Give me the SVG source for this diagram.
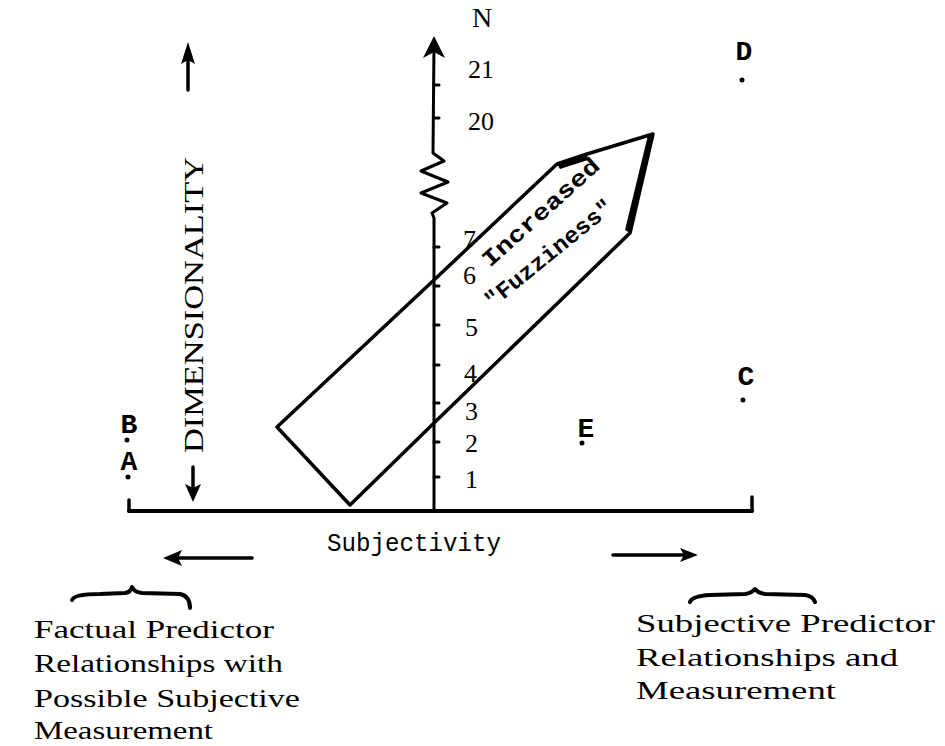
<svg xmlns="http://www.w3.org/2000/svg" width="945" height="746" viewBox="0 0 945 746">
<style>
.ln{fill:none;stroke:#000;stroke-width:3.5;stroke-linecap:round;stroke-linejoin:round}
.th{fill:none;stroke:#000;stroke-width:3;stroke-linecap:round}
.mono{font-family:"Liberation Mono","DejaVu Sans Mono",monospace;fill:#000}
.serif{font-family:"Liberation Serif","DejaVu Serif",serif;fill:#000}
.num{font-family:"Liberation Serif","DejaVu Serif",serif;font-size:26px;fill:#000}
.pt{font-family:"Liberation Mono","DejaVu Sans Mono",monospace;font-size:28px;font-weight:bold;fill:#000;text-anchor:middle}
.lab{font-family:"Liberation Serif","DejaVu Serif",serif;font-size:26px;fill:#000}
.dot{fill:#000}
</style>
<rect width="945" height="746" fill="#fff"/>

<g id="axes">
<path class="ln" d="M129,511 L752,511" style="stroke-width:4"/>
<path class="ln" d="M129,511 L129,500"/>
<path class="ln" d="M752,511 L752,497"/>
<path class="ln" d="M434,511 L434,218 L432,213 L447,203 L421,193 L448,182 L421,171 L444,161 L433,153 L434,44" style="stroke-width:3"/>
<path d="M434,36 L423,58 L434,52 L445,58 Z" fill="#000"/>
<g class="th">
<path d="M434,85 L439,85"/><path d="M434,118 L439,118"/>
<path d="M434,247 L439,247"/><path d="M434,286 L439,286"/>
<path d="M434,325 L439,325"/><path d="M434,365 L439,365"/>
<path d="M434,403 L439,403"/><path d="M434,442 L439,442"/>
<path d="M434,477 L439,477"/>
</g>
</g>

<g id="axis-labels">
<text class="serif" x="472" y="27" font-size="28">N</text>
<text class="num" x="468" y="78">21</text>
<text class="num" x="468" y="130">20</text>
<text class="num" x="463" y="248">7</text>
<text class="num" x="463" y="284">6</text>
<text class="num" x="465" y="336">5</text>
<text class="num" x="464" y="382">4</text>
<text class="num" x="465" y="420">3</text>
<text class="num" x="465" y="452">2</text>
<text class="num" x="465" y="488">1</text>
</g>

<g id="fuzziness-region">
<path class="ln" d="M350,505 L277,427 L434,280 L557,164 L587,154 L653,134 L630,233 L434,423 Z"/>
<path d="M557,164 L587,154 L588,160 L560,169 Z" fill="#000"/>
<path d="M653,134 L630,233 L625,230 L648,135 Z" fill="#000"/>
<text class="mono" font-size="23" font-weight="bold" transform="translate(490,268) rotate(-42)" textLength="150" lengthAdjust="spacingAndGlyphs">Increased</text>
<text class="mono" font-size="23" font-weight="bold" transform="translate(492,309) rotate(-39)" textLength="158" lengthAdjust="spacingAndGlyphs">"Fuzziness"</text>
</g>

<g id="dimensionality">
<path class="ln" d="M188,90 L188,60"/>
<path d="M188,42 L181,64 L188,60 L195,64 Z" fill="#000"/>
<text class="serif" font-size="28" transform="translate(203,453) rotate(-90)" textLength="296" lengthAdjust="spacingAndGlyphs">DIMENSIONALITY</text>
<path class="ln" d="M193,467 L193,488"/>
<path d="M193,502 L185,484 L193,488 L201,484 Z" fill="#000"/>
</g>

<g id="point-A">
<text class="pt" x="129" y="470">A</text>
<circle class="dot" cx="128" cy="477" r="2.5"/>
</g>
<g id="point-B">
<text class="pt" x="129" y="433">B</text>
<circle class="dot" cx="127" cy="440" r="2.5"/>
</g>
<g id="point-C">
<text class="pt" x="746" y="385">C</text>
<circle class="dot" cx="743" cy="400" r="2.5"/>
</g>
<g id="point-D">
<text class="pt" x="744" y="60">D</text>
<circle class="dot" cx="742" cy="80" r="2.5"/>
</g>
<g id="point-E">
<text class="pt" x="586" y="437">E</text>
<circle class="dot" cx="582" cy="443" r="2.5"/>
</g>

<g id="subjectivity">
<text class="mono" font-size="25" x="327" y="551" textLength="174" lengthAdjust="spacingAndGlyphs">Subjectivity</text>
<path class="ln" d="M252,558 L178,558"/>
<path d="M163,558 L182,550 L178,558 L182,566 Z" fill="#000"/>
<path class="ln" d="M613,555 L684,555"/>
<path d="M698,555 L680,548 L684,555 L680,562 Z" fill="#000"/>
</g>

<g id="left-label">
<path class="ln" d="M72,600 Q74,594 100,594 L125,593 Q131,592 132,587 Q134,592 142,593 L180,594 Q190,596 190,608" style="stroke-width:4"/>
<text class="lab" x="34" y="638" textLength="240" lengthAdjust="spacingAndGlyphs">Factual Predictor</text>
<text class="lab" x="34" y="672" textLength="249" lengthAdjust="spacingAndGlyphs">Relationships with</text>
<text class="lab" x="34" y="707" textLength="266" lengthAdjust="spacingAndGlyphs">Possible Subjective</text>
<text class="lab" x="34" y="739" textLength="179" lengthAdjust="spacingAndGlyphs">Measurement</text>
</g>

<g id="right-label">
<path class="ln" d="M690,602 Q692,596 710,595 L745,594 Q752,593 755,589 Q758,593 765,594 L805,595 Q813,596 815,602" style="stroke-width:4"/>
<text class="lab" font-size="28" x="636" y="632" textLength="299" lengthAdjust="spacingAndGlyphs">Subjective Predictor</text>
<text class="lab" font-size="28" x="636" y="666" textLength="262" lengthAdjust="spacingAndGlyphs">Relationships and</text>
<text class="lab" font-size="28" x="636" y="699" textLength="200" lengthAdjust="spacingAndGlyphs">Measurement</text>
</g>
</svg>
